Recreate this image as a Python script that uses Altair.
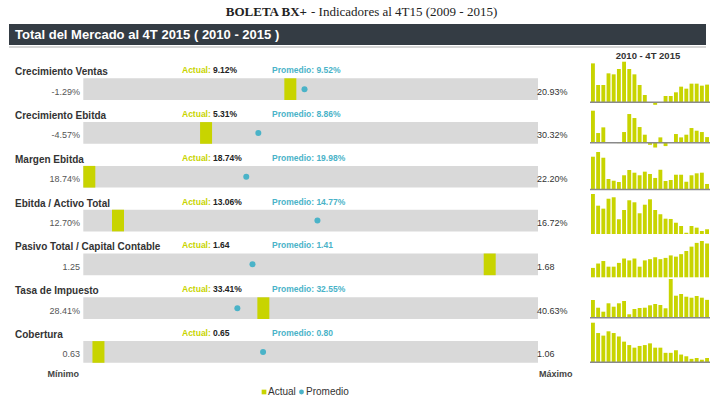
import altair as alt
import pandas as pd

# ---------------------------------------------------------------- data
indicadores = [
    "Crecimiento Ventas",
    "Crecimiento Ebitda",
    "Margen Ebitda",
    "Ebitda / Activo Total",
    "Pasivo Total / Capital Contable",
    "Tasa de Impuesto",
    "Cobertura",
]
es_porcentaje = [True, True, True, True, False, True, False]
minimo = [-1.29, -4.57, 18.74, 12.70, 1.25, 28.41, 0.63]
maximo = [20.93, 30.32, 22.20, 16.72, 1.68, 40.63, 1.06]
actual = [9.12, 5.31, 18.74, 13.06, 1.64, 33.41, 0.65]
promedio = [9.52, 8.86, 19.98, 14.77, 1.41, 32.55, 0.80]

# quarterly history, 2010 - 4T 2015
hist_ventas = [20.07, 8.92, 8.92, 14.93, 14.41, 17.16, 20.93, 17.16, 14.41, 8.92, 3.77, 0.0,
               -1.29, 0.0, 3.26, 3.26, 5.15, 8.06, 7.03, 9.61, 9.61, 8.58, 9.12]
hist_ebitda = [30.32, 9.16, 14.53, 0.0, 0.0, -0.4, 10.10, 27.16, 23.37, 14.84, 7.58, -2.0,
               -4.57, 5.05, -3.2, 0.0, 8.21, 5.05, 7.58, 13.90, 11.37, 10.10, 5.31]
hist_margen = [21.69, 22.20, 21.58, 19.28, 19.09, 18.95, 19.68, 20.25, 19.96, 19.68, 20.07, 19.82,
               19.39, 20.28, 19.06, 19.17, 19.74, 19.74, 18.98, 19.68, 19.89, 19.96, 18.74]
hist_ebitda_activo = [16.72, 15.51, 15.20, 16.23, 16.38, 14.10, 15.06, 16.07, 15.86, 14.72, 15.61, 16.17,
                      15.06, 14.62, 14.16, 14.13, 13.74, 13.40, 12.70, 13.40, 13.23, 12.88, 13.06]
hist_pasivo = [1.25, 1.32, 1.36, 1.27, 1.27, 1.33, 1.40, 1.37, 1.40, 1.27, 1.37, 1.39,
               1.42, 1.39, 1.41, 1.45, 1.43, 1.47, 1.52, 1.59, 1.65, 1.68, 1.64]
hist_impuesto = [33.36, 30.69, 29.31, 32.22, 31.04, 32.22, 33.01, 28.41, 30.24, 30.59, 30.69, 31.52,
                 31.97, 31.63, 30.49, 40.63, 34.85, 35.44, 34.50, 34.16, 34.74, 34.16, 33.41]
hist_cobertura = [1.06, 0.94, 0.91, 0.96, 0.94, 0.90, 0.84, 0.80, 0.77, 0.79, 0.80, 0.82,
                  0.77, 0.77, 0.71, 0.71, 0.74, 0.69, 0.67, 0.64, 0.65, 0.63, 0.65]
historia = [hist_ventas, hist_ebitda, hist_margen, hist_ebitda_activo,
            hist_pasivo, hist_impuesto, hist_cobertura]

titulo_bold = "BOLETA BX+"
titulo_resto = "- Indicadores al 4T15 (2009 -  2015)"
encabezado = "Total del Mercado al 4T 2015 ( 2010 - 2015 )"
titulo_spark = "2010 - 4T 2015"

# ---------------------------------------------------------------- styles / layout
VERDE = "#c8d400"
AZUL = "#4ab3c8"
GRIS_PISTA = "#d9d9d9"
OSCURO = "#343c44"
SANS = "Liberation Sans"
SERIF = "Liberation Serif"

TRACK = [83.3, 538.0]          # pixel span of the min-max track
ROW_RANGE = [78.3, 362.8]      # vertical span of the 7 tracks
MARK_W = 12.0                  # width of the "Actual" marker in px
SPARK_X = [591.0, 709.0]
spark_piso = [0, 0, 18.14, 12.57, 1.10, 27.23, 0.60]   # sparkline axis minimum
spark_base_px = [102.3, 142.7, 189.5, 234.0, 277.3, 317.7, 362.3]
spark_top_px = [61.7, 110.7, 152.0, 194.0, 241.0, 279.0, 322.7]
spark_linea = [True, True, True, False, False, True, True]


def fmt(v, pct):
    return f"{v:.2f}%" if pct else f"{v:.2f}"


main = pd.DataFrame({
    "indicador": indicadores,
    "minimo": minimo,
    "maximo": maximo,
    "actual": actual,
    "promedio": promedio,
})
main["t_min"] = [fmt(v, p) for v, p in zip(minimo, es_porcentaje)]
main["t_max"] = [fmt(v, p) for v, p in zip(maximo, es_porcentaje)]
main["t_act"] = [fmt(v, p) for v, p in zip(actual, es_porcentaje)]
main["t_prom"] = ["Promedio: " + fmt(v, p) for v, p in zip(promedio, es_porcentaje)]

spark = pd.DataFrame([
    {"indicador": n, "q": q + 1, "v": v}
    for n, serie in zip(indicadores, historia)
    for q, v in enumerate(serie)
])


def row_y():
    return alt.Y("indicador:N", axis=None,
                 scale=alt.Scale(type="band", domain=indicadores, range=ROW_RANGE,
                                 paddingInner=0.505, paddingOuter=0))


def track_x(field):
    return alt.X(f"{field}:Q", axis=None,
                 scale=alt.Scale(domain=[0, 1], range=TRACK, nice=False, zero=False))


base = alt.Chart(main)
uno = alt.Chart(alt.Data(values=[{"k": 1}]))
layers = []

# title
layers.append(uno.mark_text(font=SERIF, fontSize=13, fontWeight="bold", align="right",
                            baseline="middle", color="#222").encode(
    x=alt.value(307), y=alt.value(12), text=alt.value(titulo_bold)))
layers.append(uno.mark_text(font=SERIF, fontSize=13, align="left",
                            baseline="middle", color="#222").encode(
    x=alt.value(311), y=alt.value(12), text=alt.value(titulo_resto)))

# dark header band
layers.append(uno.mark_rect(color=OSCURO).encode(
    x=alt.value(9), x2=alt.value(706), y=alt.value(24), y2=alt.value(45)))
layers.append(uno.mark_rule(color="#c9c9c9", strokeWidth=1.5).encode(
    x=alt.value(9), x2=alt.value(706), y=alt.value(47)))
layers.append(uno.mark_text(font=SANS, fontSize=13, fontWeight="bold", align="left",
                            baseline="middle", color="white").encode(
    x=alt.value(15), y=alt.value(35), text=alt.value(encabezado)))

# gray min-max tracks
layers.append(base.mark_rect(color=GRIS_PISTA).encode(
    x=alt.value(TRACK[0]), x2=alt.value(TRACK[1]), y=row_y()))

# "Actual" marker (right edge at the value, kept inside the track)
w = MARK_W / (TRACK[1] - TRACK[0])
layers.append(
    base.transform_calculate(f="(datum.actual - datum.minimo) / (datum.maximo - datum.minimo)")
    .transform_calculate(hi=f"max(datum.f, {w})")
    .transform_calculate(lo=f"datum.hi - {w}")
    .mark_rect(color=VERDE)
    .encode(x=track_x("lo"), x2="hi:Q", y=row_y())
)

# "Promedio" dot
layers.append(
    base.transform_calculate(fp="(datum.promedio - datum.minimo) / (datum.maximo - datum.minimo)")
    .mark_circle(color=AZUL, size=36, opacity=1)
    .encode(x=track_x("fp"), y=row_y())
)

# texts per row
layers.append(base.mark_text(font=SANS, fontSize=10, fontWeight="bold", align="left",
                             baseline="middle", color="#333", yOffset=-17).encode(
    x=alt.value(15), y=row_y(), text="indicador:N"))
layers.append(base.mark_text(font=SANS, fontSize=8.5, fontWeight="bold", align="left",
                             baseline="middle", color=VERDE, yOffset=-19).encode(
    x=alt.value(182), y=row_y(), text=alt.value("Actual:")))
layers.append(base.mark_text(font=SANS, fontSize=8.5, fontWeight="bold", align="left",
                             baseline="middle", color="#222", yOffset=-19).encode(
    x=alt.value(213), y=row_y(), text="t_act:N"))
layers.append(base.mark_text(font=SANS, fontSize=8.5, fontWeight="bold", align="left",
                             baseline="middle", color=AZUL, yOffset=-19).encode(
    x=alt.value(272), y=row_y(), text="t_prom:N"))
layers.append(base.mark_text(font=SANS, fontSize=9, align="right",
                             baseline="middle", color="#555", yOffset=2.5).encode(
    x=alt.value(80), y=row_y(), text="t_min:N"))
layers.append(base.mark_text(font=SANS, fontSize=9, align="left",
                             baseline="middle", color="#333", yOffset=2.5).encode(
    x=alt.value(537), y=row_y(), text="t_max:N"))

# Mínimo / Máximo
layers.append(uno.mark_text(font=SANS, fontSize=9, fontWeight="bold", align="right",
                            baseline="middle", color="#444").encode(
    x=alt.value(79), y=alt.value(374), text=alt.value("Mínimo")))
layers.append(uno.mark_text(font=SANS, fontSize=9, fontWeight="bold", align="left",
                            baseline="middle", color="#444").encode(
    x=alt.value(539), y=alt.value(374), text=alt.value("Máximo")))

# legend
layers.append(uno.mark_square(color=VERDE, size=22, opacity=1).encode(
    x=alt.value(264), y=alt.value(392)))
layers.append(uno.mark_text(font=SANS, fontSize=10, align="left", baseline="middle",
                            color="#333").encode(
    x=alt.value(268), y=alt.value(392), text=alt.value("Actual")))
layers.append(uno.mark_circle(color=AZUL, size=24, opacity=1).encode(
    x=alt.value(301.5), y=alt.value(392)))
layers.append(uno.mark_text(font=SANS, fontSize=10, align="left", baseline="middle",
                            color="#333").encode(
    x=alt.value(306), y=alt.value(392), text=alt.value("Promedio")))

# sparklines
layers.append(uno.mark_text(font=SANS, fontSize=9.5, fontWeight="bold", align="center",
                            baseline="middle", color="#333").encode(
    x=alt.value(648), y=alt.value(56), text=alt.value(titulo_spark)))

qs = list(range(1, len(hist_ventas) + 1))
for i, nombre in enumerate(indicadores):
    xs = alt.Scale(domain=qs, range=SPARK_X, paddingInner=0.25, paddingOuter=0)
    ys = alt.Scale(domain=[spark_piso[i], max(historia[i])],
                   range=[spark_base_px[i], spark_top_px[i]], zero=False, nice=False)
    sb = alt.Chart(spark).transform_filter(alt.datum.indicador == nombre)
    barras = sb.mark_bar(color=VERDE).encode(
        x=alt.X("q:O", axis=None, scale=xs),
        y=alt.Y("v:Q", axis=None, scale=ys),
        y2=alt.datum(spark_piso[i]),
    )
    if spark_linea[i]:
        linea = uno.mark_rule(color="#8a8a8a", strokeWidth=1.5).encode(
            x=alt.value(SPARK_X[0] - 1), x2=alt.value(SPARK_X[1] + 1),
            y=alt.Y(datum=spark_piso[i], type="quantitative", axis=None, scale=ys),
        )
        layers.append(alt.layer(barras, linea))
    else:
        layers.append(barras)

chart = (
    alt.layer(*layers)
    .resolve_scale(x="independent", y="independent")
    .properties(width=715, height=403, autosize=alt.AutoSizeParams(type="none"),
                padding=0, background="white")
    .configure_view(stroke=None)
)

chart.save("out.html", embed_options={"renderer": "svg", "actions": False})
